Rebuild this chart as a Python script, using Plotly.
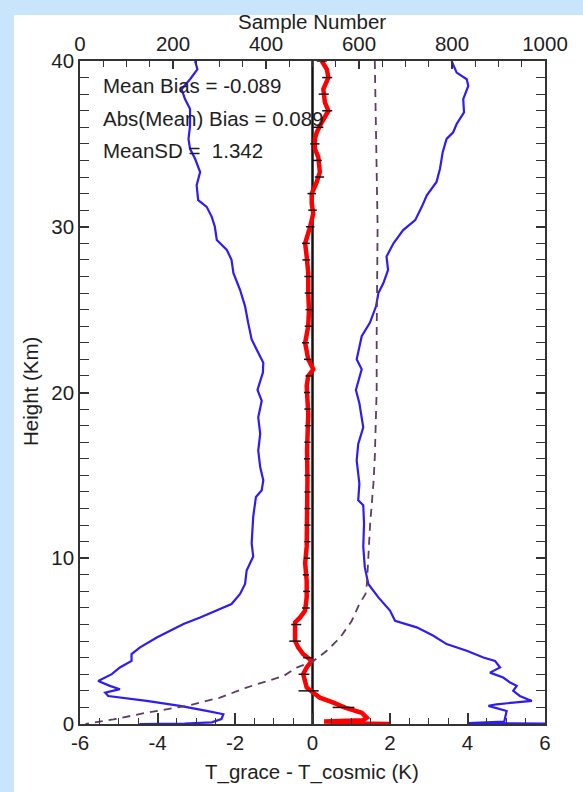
import plotly.graph_objects as go

# ---------------- data ----------------
# mean - SD (left blue curve), K vs height km
left_h = [40.0, 39.5, 38.9, 38.3, 37.7, 37.1, 36.1, 35.3, 34.7, 34.1, 33.3, 32.5, 31.6, 31.2,
          30.6, 30.0, 29.2, 28.6, 28.0, 27.2, 26.2, 25.2, 24.2, 23.2, 22.4, 21.8, 21.2, 20.15,
          19.5, 18.5, 17.5, 16.5, 15.5, 14.7, 14.1, 13.7, 12.5, 11.5, 10.9, 10.1, 9.26, 8.45,
          7.85, 7.24, 6.84, 6.43, 6.03, 5.63, 5.22, 4.62, 4.22, 3.81, 3.41, 3.01, 2.60, 2.30,
          2.10, 1.89, 1.69, 1.39, 1.09, 0.79, 0.59, 0.30, 0.10, 0.03, 0.0]
left_x = [-3.03, -2.97, -3.16, -3.38, -3.29, -3.16, -3.16, -3.20, -3.16, -3.03, -2.90, -2.99, -2.95, -2.73,
          -2.60, -2.52, -2.47, -2.21, -2.09, -2.04, -1.87, -1.74, -1.66, -1.57, -1.40, -1.27, -1.28, -1.42,
          -1.31, -1.40, -1.35, -1.40, -1.35, -1.27, -1.31, -1.46, -1.53, -1.55, -1.57, -1.53, -1.70, -1.74,
          -1.87, -2.09, -2.47, -2.90, -3.33, -3.68, -4.02, -4.45, -4.67, -4.67, -4.97, -5.18, -5.53, -5.23,
          -4.97, -5.35, -5.27, -4.28, -3.42, -2.73, -2.30, -2.35, -2.60, -3.30, -4.47]

# mean + SD (right blue curve)
right_h = [40.0, 39.3, 38.9, 38.5, 37.7, 36.9, 36.2, 35.7, 35.3, 34.5, 33.5, 32.7, 31.9, 31.2,
           30.4, 29.8, 29.0, 28.2, 27.4, 26.6, 26.0, 25.2, 24.2, 23.4, 22.0, 21.4, 20.15, 19.35,
           17.9, 16.9, 15.9, 14.5, 13.5, 13.2, 12.1, 10.7, 9.46, 8.45, 7.64, 6.84, 6.23, 5.83,
           5.32, 4.82, 4.42, 4.01, 3.81, 3.41, 3.10, 2.80, 2.50, 2.30, 2.00, 1.69, 1.39, 1.19,
           1.09, 0.79, 0.38, 0.15, 0.05, 0.0]
right_x = [3.59, 3.72, 3.98, 4.02, 3.89, 3.91, 3.72, 3.63, 3.46, 3.36, 3.29, 3.20, 2.95, 2.82,
           2.65, 2.34, 2.09, 1.91, 1.95, 1.83, 1.70, 1.64, 1.48, 1.27, 1.14, 1.27, 1.12, 1.21,
           1.31, 1.18, 1.14, 1.21, 1.18, 1.31, 1.33, 1.31, 1.35, 1.44, 1.70, 2.00, 2.13, 2.69,
           3.12, 3.46, 3.98, 4.41, 4.71, 4.84, 4.58, 4.92, 5.10, 5.27, 5.18, 5.35, 5.66, 4.75,
           4.54, 5.01, 4.97, 4.95, 4.02, 8.50]

# mean bias (red curve)
bias_h = [40.0, 39.5, 39.0, 38.3, 37.5, 37.0, 36.3, 35.7, 35.3, 34.7, 34.2, 33.3, 32.7, 32.0,
          31.4, 30.8, 30.0, 29.4, 29.0, 28.2, 27.2, 26.0, 25.0, 24.0, 23.4, 23.0, 22.0, 21.4,
          21.0, 20.4, 18.7, 16.5, 14.7, 12.7, 10.7, 9.7, 8.65, 7.64, 6.84, 6.43, 6.13, 5.63,
          5.02, 4.62, 4.22, 3.81, 3.41, 3.01, 2.60, 2.20, 1.89, 1.59, 1.29, 0.99, 0.68, 0.38,
          0.22, 0.15, 0.10, 0.06, 0.0]
bias_x = [0.24, 0.37, 0.41, 0.28, 0.32, 0.41, 0.24, 0.11, 0.06, 0.06, 0.15, 0.19, 0.11, -0.02,
          -0.02, 0.02, -0.06, -0.15, -0.19, -0.15, -0.11, -0.11, -0.09, -0.11, -0.17, -0.19, -0.11, 0.02,
          -0.11, -0.15, -0.11, -0.14, -0.13, -0.13, -0.15, -0.19, -0.15, -0.15, -0.19, -0.32, -0.45, -0.45,
          -0.45, -0.37, -0.24, -0.02, -0.15, -0.24, -0.19, -0.15, 0.02, 0.19, 0.54, 0.84, 1.27, 1.40,
          1.30, 0.30, 1.20, 0.30, 2.00]

# error bars on the mean bias, one per km
err_h = list(range(1, 41))
err_center = [0.80, -0.10, -0.22, -0.12, -0.45, -0.42, -0.17, -0.15, -0.17, -0.14,
              -0.13, -0.13, -0.13, -0.13, -0.13, -0.14, -0.13, -0.12, -0.13, -0.14,
              -0.10, -0.13, -0.18, -0.11, -0.09, -0.11, -0.11, -0.16, -0.17, -0.06,
              0.00, -0.02, 0.18, 0.12, 0.06, 0.15, 0.38, 0.29, 0.38, 0.24]
err_half = [0.28, 0.26, 0.14, 0.12, 0.15, 0.13, 0.10, 0.09, 0.08, 0.08,
            0.08, 0.08, 0.08, 0.08, 0.08, 0.08, 0.08, 0.08, 0.08, 0.08,
            0.08, 0.09, 0.09, 0.09, 0.09, 0.09, 0.10, 0.10, 0.10, 0.11,
            0.11, 0.11, 0.12, 0.12, 0.12, 0.13, 0.13, 0.13, 0.13, 0.13]

# sample number (dashed, top axis)
samp_h = [40.0, 30.0, 23.4, 20.15, 16.1, 14.5, 12.1, 10.1, 8.45, 7.85, 7.2, 6.2, 5.2, 4.4,
          3.8, 3.4, 2.9, 2.2, 1.59, 1.09, 0.68, 0.28, 0.0]
samp_n = [634, 640, 638, 638, 634, 631, 624, 620, 617, 614, 600, 584, 559, 530,
          502, 466, 438, 358, 301, 229, 143, 72, 12]

x_ticks = [-6, -4, -2, 0, 2, 4, 6]
x_ticktext = ["-6", "-4", "-2", "0", "2", "4", "6"]
top_ticks = [0, 200, 400, 600, 800, 1000]
y_ticks = [0, 10, 20, 30, 40]

stats = ["Mean Bias = -0.089", "Abs(Mean) Bias = 0.089", "MeanSD =\u00a0 1.342"]

# ---------------- figure ----------------
W, H = 583, 792
L, R, T, B = 80, 545, 61, 724
FONT = "Liberation Sans, Arial, Helvetica, sans-serif"
INK = "#1e1e1e"
BLUE = "#2f1cf2"
FS = 20.5

def px_x(p):
    return (p - L) / (R - L)

def px_y(p):
    return (B - p) / (B - T)

fig = go.Figure()

fig.add_trace(go.Scatter(x=[0, 0], y=[0, 40], mode="lines",
                         line=dict(color="#111111", width=2.5), showlegend=False))
fig.add_trace(go.Scatter(x=left_x, y=left_h, mode="lines",
                         line=dict(color=BLUE, width=2.2), showlegend=False))
fig.add_trace(go.Scatter(x=right_x, y=right_h, mode="lines",
                         line=dict(color=BLUE, width=2.2), showlegend=False))
fig.add_trace(go.Scatter(x=samp_n, y=samp_h, mode="lines", xaxis="x2",
                         line=dict(color="#5e3c66", width=1.8, dash="8px,6px"),
                         showlegend=False))
fig.add_trace(go.Scatter(x=bias_x, y=bias_h, mode="lines",
                         line=dict(color="#ff0000", width=4.5), showlegend=False))
fig.add_trace(go.Scatter(x=err_center, y=err_h, mode="markers",
                         marker=dict(size=1, color="rgba(0,0,0,0)"),
                         error_x=dict(type="data", array=err_half, visible=True,
                                      color="#111111", thickness=1.5, width=0),
                         showlegend=False))

axis_common = dict(showline=True, linecolor="#333333", linewidth=1.5, showgrid=False,
                   zeroline=False, ticks="inside", tickcolor="#333333",
                   tickfont=dict(family=FONT, size=FS, color=INK))

fig.update_layout(
    width=W, height=H,
    margin=dict(l=L, r=W - R, t=T, b=H - B),
    paper_bgcolor="white", plot_bgcolor="white",
    xaxis=dict(range=[-6, 6], tickvals=x_ticks, ticktext=x_ticktext,
               ticklen=11, tickwidth=1.5,
               minor=dict(dtick=0.5, tick0=-6, ticklen=6, tickwidth=1.2,
                          ticks="inside", tickcolor="#333333"),
               **axis_common),
    xaxis2=dict(range=[0, 1000], overlaying="x", side="top", tickvals=top_ticks,
                ticklen=8, tickwidth=1.5,
                minor=dict(dtick=50, tick0=0, ticklen=6, tickwidth=1.2,
                           ticks="inside", tickcolor="#333333"),
                **axis_common),
    yaxis=dict(range=[0, 40], tickvals=y_ticks, ticklen=9, tickwidth=1.5,
               mirror="allticks",
               minor=dict(dtick=1, tick0=0, ticklen=4, tickwidth=1.2,
                          ticks="inside", tickcolor="#333333"),
               **axis_common),
)

# light-blue page frame strips (top and left)
fig.add_shape(type="rect", xref="paper", yref="paper", layer="below",
              x0=px_x(0), x1=px_x(14), y0=px_y(H), y1=px_y(0),
              fillcolor="#c8e5fb", line=dict(width=0))
fig.add_shape(type="rect", xref="paper", yref="paper", layer="below",
              x0=px_x(0), x1=px_x(W), y0=px_y(15), y1=px_y(0),
              fillcolor="#c8e5fb", line=dict(width=0))

ann_font = dict(family=FONT, size=FS, color=INK)
for txt, ypix in zip(stats, [86, 118, 151]):
    fig.add_annotation(text=txt, xref="paper", yref="paper", x=px_x(101), y=px_y(ypix),
                       xanchor="left", yanchor="middle", showarrow=False, font=ann_font)

fig.add_annotation(text="Sample Number", xref="paper", yref="paper",
                   x=px_x(312), y=px_y(22), xanchor="center", yanchor="middle",
                   showarrow=False, font=ann_font)
fig.add_annotation(text="T_grace - T_cosmic (K)", xref="paper", yref="paper",
                   x=px_x(312), y=px_y(772), xanchor="center", yanchor="middle",
                   showarrow=False, font=ann_font)
fig.add_annotation(text="Height (Km)", xref="paper", yref="paper", textangle=-90,
                   x=px_x(30), y=px_y(392), xanchor="center", yanchor="middle",
                   showarrow=False, font=ann_font)

fig.write_html("out.html", config={"displayModeBar": False},
               post_script="document.body.style.margin='0';")
